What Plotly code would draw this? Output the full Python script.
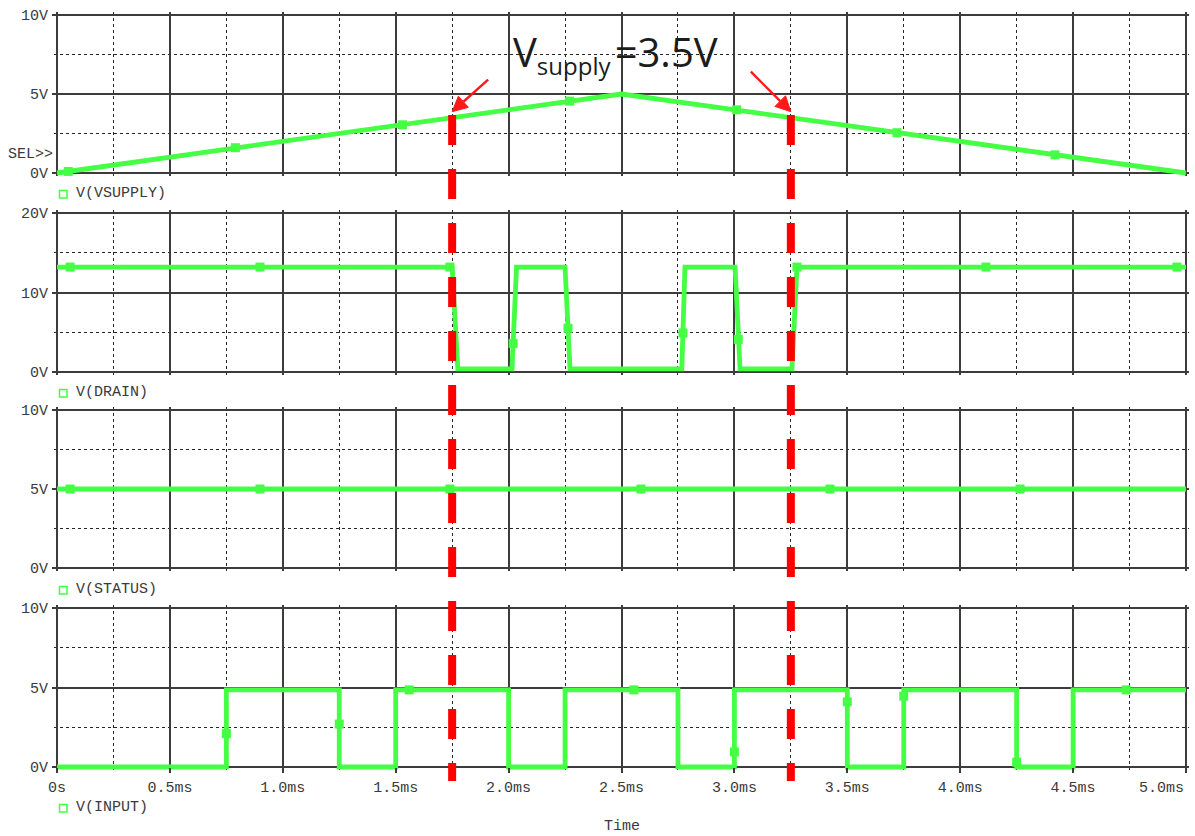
import math
import plotly.graph_objects as go

# ---- time axis (milliseconds) ----
t_ticks = [0.0, 0.5, 1.0, 1.5, 2.0, 2.5, 3.0, 3.5, 4.0, 4.5, 5.0]
t_tick_labels = ["0s", "0.5ms", "1.0ms", "1.5ms", "2.0ms", "2.5ms",
                 "3.0ms", "3.5ms", "4.0ms", "4.5ms", "5.0ms"]
t_minor = [0.25, 0.75, 1.25, 1.75, 2.25, 2.75, 3.25, 3.75, 4.25, 4.75]

# ---- V(VSUPPLY) ----
vsupply_t = [0.0, 2.5, 5.0]
vsupply_v = [0.0, 5.0, 0.0]
vsupply_mark_t = [0.05, 0.79, 1.53, 2.27, 3.01, 3.72, 4.42]
vsupply_mark_v = [0.1, 1.6, 3.05, 4.55, 4.0, 2.55, 1.15]

# ---- V(DRAIN) ----
drain_t = [0.0, 1.75, 1.775, 2.015, 2.035, 2.25, 2.272, 2.767, 2.781,
           3.003, 3.025, 3.255, 3.277, 5.0]
drain_v = [13.2, 13.2, 0.4, 0.4, 13.2, 13.2, 0.4, 0.4, 13.2,
           13.2, 0.4, 0.4, 13.2, 13.2]
drain_mark_t = [0.058, 0.899, 1.74, 2.02, 2.263, 2.772, 3.017, 3.277, 4.114, 4.96]
drain_mark_v = [13.2, 13.2, 13.2, 3.6, 5.5, 4.9, 4.1, 13.2, 13.2, 13.2]

# ---- V(STATUS) ----
status_t = [0.0, 5.0]
status_v = [5.0, 5.0]
status_mark_t = [0.058, 0.899, 1.74, 2.586, 3.423, 4.265]
status_mark_v = [5.0, 5.0, 5.0, 5.0, 5.0, 5.0]

# ---- V(INPUT) ----
input_t = [0.0, 0.75, 0.75, 1.25, 1.25, 1.5, 1.5, 2.0, 2.0, 2.25, 2.25, 2.75,
           2.75, 3.0, 3.0, 3.5, 3.5, 3.75, 3.75, 4.25, 4.25, 4.5, 4.5, 5.0]
input_v = [0.0, 0.0, 4.85, 4.85, 0.0, 0.0, 4.85, 4.85, 0.0, 0.0, 4.85, 4.85,
           0.0, 0.0, 4.85, 4.85, 0.0, 0.0, 4.85, 4.85, 0.0, 0.0, 4.85, 4.85]
input_mark_t = [0.75, 1.25, 1.56, 2.555, 3.0, 3.5, 3.75, 4.25, 4.735]
input_mark_v = [2.1, 2.7, 4.85, 4.85, 0.95, 4.1, 4.45, 0.3, 4.85]

# supply threshold crossings
threshold_v = 3.5
threshold_t = [1.75, 3.25]

panel_names = ["V(VSUPPLY)", "V(DRAIN)", "V(STATUS)", "V(INPUT)"]
panel_vmax = [10, 20, 10, 10]
panel_ticks = [[0, 5, 10], [0, 10, 20], [0, 5, 10], [0, 5, 10]]
panel_tick_labels = [["0V", "5V", "10V"], ["0V", "10V", "20V"],
                     ["0V", "5V", "10V"], ["0V", "5V", "10V"]]
panel_minor = [[2.5, 7.5], [5, 15], [2.5, 7.5], [2.5, 7.5]]

series = [
    (vsupply_t, vsupply_v, vsupply_mark_t, vsupply_mark_v),
    (drain_t, drain_v, drain_mark_t, drain_mark_v),
    (status_t, status_v, status_mark_t, status_mark_v),
    (input_t, input_v, input_mark_t, input_mark_v),
]

# ---- page geometry (pixels) ----
W, H = 1195, 836
X_LEFT, X_RIGHT = 57, 1186
PANEL_PX = [(15, 173), (213, 372), (410, 568), (608, 767)]
LEGEND_Y = [193, 392, 589, 807]
PAD = 3          # keeps the thick trace visible where it runs along a frame edge
T_MAX = 5.0

GREEN = "rgb(68,255,68)"
GRID = "#3c3c3c"
DOT = "#262626"
LABEL = "#3a3a3a"
ARROW = "#ff1a1a"
MONO = "Liberation Mono, Courier New, monospace"


def px_x(p):
    return p / W


def px_y(p):
    return 1 - p / H


fig = go.Figure()
layout = dict(
    width=W, height=H,
    margin=dict(l=0, r=0, t=0, b=0, autoexpand=False),
    paper_bgcolor="white", plot_bgcolor="white",
    showlegend=False,
    font=dict(family=MONO, size=15, color=LABEL),
)

x_span = X_RIGHT - X_LEFT
x_extra = PAD * T_MAX / x_span
x_domain = [px_x(X_LEFT - PAD), px_x(X_RIGHT + PAD)]

shapes = []
annotations = []

for i, (t, v, mt, mv) in enumerate(series):
    n = i + 1
    xa = "x" if n == 1 else f"x{n}"
    ya = "y" if n == 1 else f"y{n}"
    top, bot = PANEL_PX[i]
    vmax = panel_vmax[i]
    y_extra = PAD * vmax / (bot - top)
    last = n == len(series)

    fig.add_trace(go.Scatter(
        x=t, y=v, xaxis=xa, yaxis=ya, mode="lines",
        line=dict(color=GREEN, width=4.8), hoverinfo="skip",
    ))
    fig.add_trace(go.Scatter(
        x=mt, y=mv, xaxis=xa, yaxis=ya, mode="markers",
        marker=dict(symbol="square", size=9, color=GREEN), hoverinfo="skip",
    ))

    layout[f"xaxis{'' if n == 1 else n}"] = dict(
        domain=x_domain,
        range=[-x_extra, T_MAX + x_extra],
        anchor="free" if last else ya,
        position=px_y(bot) if last else None,
        matches=None if n == 1 else "x",
        tickmode="array", tickvals=t_ticks,
        # the end label is right-aligned at the frame edge (added below)
        ticktext=t_tick_labels[:-1] + [""],
        showticklabels=last,
        ticks="outside" if last else "", ticklen=5, tickwidth=1.5, tickcolor=GRID,
        ticklabelstandoff=1,
        showgrid=True, gridcolor=GRID, gridwidth=1.6,
        minor=dict(tickvals=t_minor, showgrid=True, gridcolor=DOT,
                   griddash="3px,3px", gridwidth=1.3, ticks=""),
        showline=False, zeroline=False, fixedrange=True, automargin=False,
    )
    layout[f"yaxis{'' if n == 1 else n}"] = dict(
        domain=[px_y(bot + PAD), px_y(top - PAD)],
        range=[-y_extra, vmax + y_extra],
        anchor="free", position=px_x(X_LEFT),
        tickmode="array", tickvals=panel_ticks[i], ticktext=panel_tick_labels[i],
        ticks="outside", ticklen=5, tickwidth=1.5, tickcolor=GRID,
        ticklabelstandoff=1,
        showgrid=True, gridcolor=GRID, gridwidth=1.6,
        minor=dict(tickvals=panel_minor[i], showgrid=True, gridcolor=DOT,
                   griddash="3px,3px", gridwidth=1.3, ticks=""),
        showline=False, zeroline=False, fixedrange=True, automargin=False,
    )

    # trace legend: small hollow square plus the trace name
    ly = LEGEND_Y[i]
    shapes.append(dict(
        type="rect", xref="paper", yref="paper",
        x0=px_x(59.5), x1=px_x(67), y0=px_y(ly + 5), y1=px_y(ly - 2.5),
        line=dict(color=GREEN, width=1.5), fillcolor="rgba(0,0,0,0)",
    ))
    annotations.append(dict(
        text=panel_names[i], xref="paper", yref="paper",
        x=px_x(74), y=px_y(ly), xanchor="left", yanchor="middle",
        showarrow=False, font=dict(family=MONO, size=15, color=LABEL),
    ))

# last time label, kept inside the page at the right frame edge
annotations.append(dict(
    text=t_tick_labels[-1], xref="paper", yref="paper",
    x=px_x(X_RIGHT), y=px_y(788), xanchor="right", yanchor="middle",
    showarrow=False, font=dict(family=MONO, size=15, color=LABEL),
))

# red dashed markers at the supply threshold crossings
for tc in threshold_t:
    shapes.append(dict(
        type="line", xref="x", yref="paper",
        x0=tc, x1=tc, y0=px_y(115), y1=px_y(781),
        line=dict(color="#ff0000", width=8, dash="30px,24px"),
        layer="above",
    ))


# arrows pointing at the crossings on the supply ramp; offsets in pixels
# relative to the crossing point (x right, y up)
def arrow_shapes(tc, tail, tip, head_len=15.0, head_half=7.5):
    dx, dy = tip[0] - tail[0], tip[1] - tail[1]
    length = math.hypot(dx, dy)
    ux, uy = dx / length, dy / length
    bx, by = tip[0] - head_len * ux, tip[1] - head_len * uy
    nx, ny = -uy, ux
    common = dict(xref="x", yref="y", xsizemode="pixel", ysizemode="pixel",
                  xanchor=tc, yanchor=threshold_v, layer="above")
    shaft = dict(type="line", x0=tail[0], y0=tail[1], x1=bx, y1=by,
                 line=dict(color=ARROW, width=2.4), **common)
    head = dict(
        type="path",
        path=(f"M{tip[0]:.2f},{tip[1]:.2f} "
              f"L{bx + head_half * nx:.2f},{by + head_half * ny:.2f} "
              f"L{bx - head_half * nx:.2f},{by - head_half * ny:.2f} Z"),
        fillcolor=ARROW, line=dict(color=ARROW, width=1), **common)
    return [shaft, head]


arrow_tails = [(36, 38), (-40, 46)]
for tc, tail in zip(threshold_t, arrow_tails):
    shapes += arrow_shapes(tc, tail, (0, 6))

annotations += [
    dict(text=("V<sub><span style='font-size:24px'>supply</span></sub>"
               "<span style='font-size:16px'>\u00a0</span>=3.5V"),
         xref="paper", yref="paper",
         x=px_x(615), y=px_y(53), xanchor="center", yanchor="middle",
         showarrow=False,
         font=dict(family="Open Sans, Noto Sans, sans-serif", size=40, color="#1c1c1c")),
    dict(text="SEL>>", xref="paper", yref="paper",
         x=px_x(6), y=px_y(155), xanchor="left", yanchor="middle",
         showarrow=False, font=dict(family=MONO, size=15, color=LABEL)),
    dict(text="Time", xref="paper", yref="paper",
         x=px_x(622), y=px_y(826), xanchor="center", yanchor="middle",
         showarrow=False, font=dict(family=MONO, size=15, color=LABEL)),
]

layout["shapes"] = shapes
layout["annotations"] = annotations
fig.update_layout(**layout)

fig.write_html("out.html")
